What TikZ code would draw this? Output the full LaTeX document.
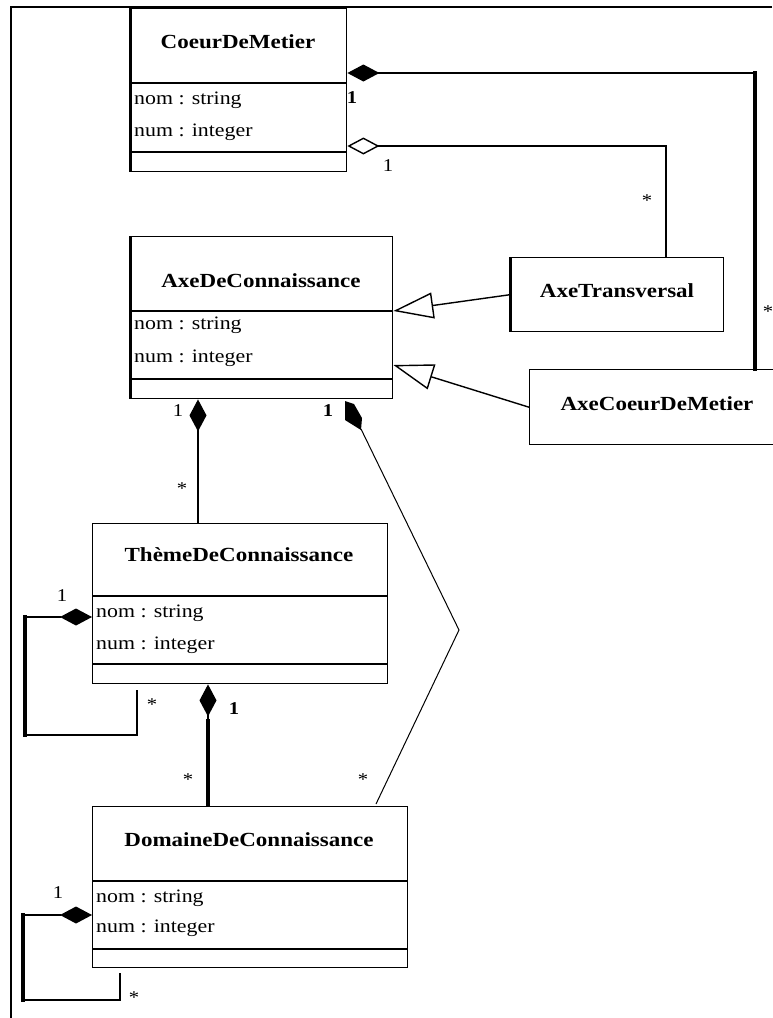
\documentclass[tikz,border=0pt]{standalone}
\usepackage{fontspec}
\setmainfont{Liberation Serif}[FakeStretch=1.15]
\usetikzlibrary{arrows.meta,calc}
\begin{document}
\begin{tikzpicture}[x=1pt,y=-1pt,
  box/.style={draw,line width=1.4pt,inner sep=0pt,anchor=north west},
  titletext/.style={font=\fontsize{20}{24}\selectfont\bfseries,inner sep=0pt},
  attr/.style={font=\fontsize{19}{22}\selectfont,anchor=west,inner sep=0pt},
  mult/.style={font=\fontsize{18}{20}\selectfont,inner sep=0pt},
  multb/.style={font=\fontsize{18}{20}\selectfont\bfseries,inner sep=0pt},
  conn/.style={line width=1.4pt},
  thinconn/.style={line width=1pt},
  heavy/.style={line width=3.5pt,line cap=rect},
  mid/.style={line width=2.2pt,line cap=rect},
  comp/.style={{Diamond[length=32pt,width=17pt]}-},
  aggr/.style={{Diamond[open,length=32pt,width=17pt,fill=white]}-},
  gen/.style={-{Triangle[open,length=40pt,width=26pt,fill=white]}},
]
\useasboundingbox (0,0) rectangle (772,1018);
% frame
\draw[line width=2pt] (772,7) -- (11,7) -- (11,1020);

% ---- CoeurDeMetier
\node[box,minimum width=216pt,minimum height=163pt] (cdm) at (130,8) {};
\draw[line width=1.4pt] ($(cdm.north west)+(0,75)$) -- ($(cdm.north east)+(0,75)$);
\draw[line width=1.4pt] ($(cdm.north west)+(0,144)$) -- ($(cdm.north east)+(0,144)$);
\draw[line width=3pt] (cdm.north west) -- (cdm.south west);
\node[titletext] (cdmT) at (238,42) {CoeurDeMetier};
\node[attr] (cdmA) at (134,100) {nom : string};
\node[attr] (cdmB) at (134,132) {num : integer};

% ---- AxeDeConnaissance
\node[box,minimum width=262pt,minimum height=162pt] (adc) at (130,236) {};
\draw[line width=1.4pt] ($(adc.north west)+(0,75)$) -- ($(adc.north east)+(0,75)$);
\draw[line width=1.4pt] ($(adc.north west)+(0,143)$) -- ($(adc.north east)+(0,143)$);
\draw[line width=3pt] (adc.north west) -- (adc.south west);
\node[titletext] (adcT) at (261,281) {AxeDeConnaissance};
\node[attr] (adcA) at (134,325) {nom : string};
\node[attr] (adcB) at (134,358) {num : integer};

% ---- AxeTransversal
\node[box,minimum width=213pt,minimum height=74pt] (atr) at (510,257) {};
\draw[line width=3pt] (atr.north west) -- (atr.south west);
\node[titletext] (atrT) at (617,291) {AxeTransversal};

% ---- AxeCoeurDeMetier
\node[box,minimum width=260pt,minimum height=75pt] (acm) at (529,369) {};
\node[titletext] (acmT) at (657,404) {AxeCoeurDeMetier};

% ---- ThemeDeConnaissance
\node[box,minimum width=295pt,minimum height=160pt] (thm) at (92,523) {};
\draw[line width=1.4pt] ($(thm.north west)+(0,73)$) -- ($(thm.north east)+(0,73)$);
\draw[line width=1.4pt] ($(thm.north west)+(0,141)$) -- ($(thm.north east)+(0,141)$);
\node[titletext] (thmT) at (239,555) {ThèmeDeConnaissance};
\node[attr] (thmA) at (96,613) {nom : string};
\node[attr] (thmB) at (96,645) {num : integer};

% ---- DomaineDeConnaissance
\node[box,minimum width=315pt,minimum height=161pt] (dom) at (92,806) {};
\draw[line width=1.4pt] ($(dom.north west)+(0,75)$) -- ($(dom.north east)+(0,75)$);
\draw[line width=1.4pt] ($(dom.north west)+(0,143)$) -- ($(dom.north east)+(0,143)$);
\node[titletext] (domT) at (249,840) {DomaineDeConnaissance};
\node[attr] (domA) at (96,898) {nom : string};
\node[attr] (domB) at (96,928) {num : integer};

% ---- CoeurDeMetier <>-- AxeCoeurDeMetier
\coordinate (k1) at (755,73);
\draw[conn,comp] (cdm.east |- k1) -- (k1);
\draw[heavy] (k1) -- (k1 |- acm.north);
\node[multb] (m1) at (352,98) {1};
\node[mult] (m2) at (768,312) {*};

% ---- CoeurDeMetier <>-- AxeTransversal (aggregation)
\coordinate (k2) at (666,146);
\draw[conn,aggr] (cdm.east |- k2) -- (k2) -- (k2 |- atr.north);
\node[mult] (m3) at (388,166) {1};
\node[mult] (m4) at (647,201) {*};

% ---- generalisations
\coordinate (g1) at ($(adc.north east)+(0,75)$);
\coordinate (g2) at ($(adc.north east)+(0,129)$);
\draw[conn,gen] (atr.west) -- (g1);
\draw[conn,gen] (acm.west) -- (g2);

% ---- AxeDeConnaissance <>-- Theme
\coordinate (k3) at ($(adc.south west)+(68,0)$);
\draw[conn,comp] (k3) -- (k3 |- thm.north);
\node[mult] (m5) at (178,411) {1};
\node[mult] (m6) at (182,489) {*};

% ---- AxeDeConnaissance <>-- Domaine (skewed)
\coordinate (k4) at (459,630);
\coordinate (k5) at ($(dom.north west)+(284,-2)$);
\fill (345,401) -- (354,404) -- (362,418) -- (361,430) -- (345,420) -- cycle;
\draw[thinconn] (361,429) -- (k4) -- (k5);
\node[multb] (m7) at (328,411) {1};
\node[mult] (m8) at (363,780) {*};

% ---- Theme self loop
\coordinate (t1) at (25,617);
\coordinate (t2) at (25,735);
\coordinate (t3) at (137,735);
\coordinate (t4) at (137,690);
\draw[conn,comp] (thm.west |- t1) -- (t1);
\draw[heavy] (t1) -- (t2);
\draw[mid] (t2) -- (t3);
\draw[conn] (t3) -- (t4);
\node[mult] (m9) at (62,596) {1};
\node[mult] (m10) at (152,705) {*};

% ---- Theme <>-- Domaine
\coordinate (k6) at ($(thm.south west)+(116,0)$);
\coordinate (k7) at ($(thm.south west)+(116,35)$);
\draw[conn,comp] (k6) -- (k7);
\draw[line width=4pt] (k7) -- (k7 |- dom.north);
\node[multb] (m11) at (234,709) {1};
\node[mult] (m12) at (188,780) {*};

% ---- Domaine self loop
\coordinate (d1) at (23,915);
\coordinate (d2) at (23,1000);
\coordinate (d3) at (120,1000);
\coordinate (d4) at (120,973);
\draw[conn,comp] (dom.west |- d1) -- (d1);
\draw[heavy] (d1) -- (d2);
\draw[mid] (d2) -- (d3);
\draw[conn] (d3) -- (d4);
\node[mult] (m13) at (58,893) {1};
\node[mult] (m14) at (134,998) {*};
\end{tikzpicture}
\end{document}
